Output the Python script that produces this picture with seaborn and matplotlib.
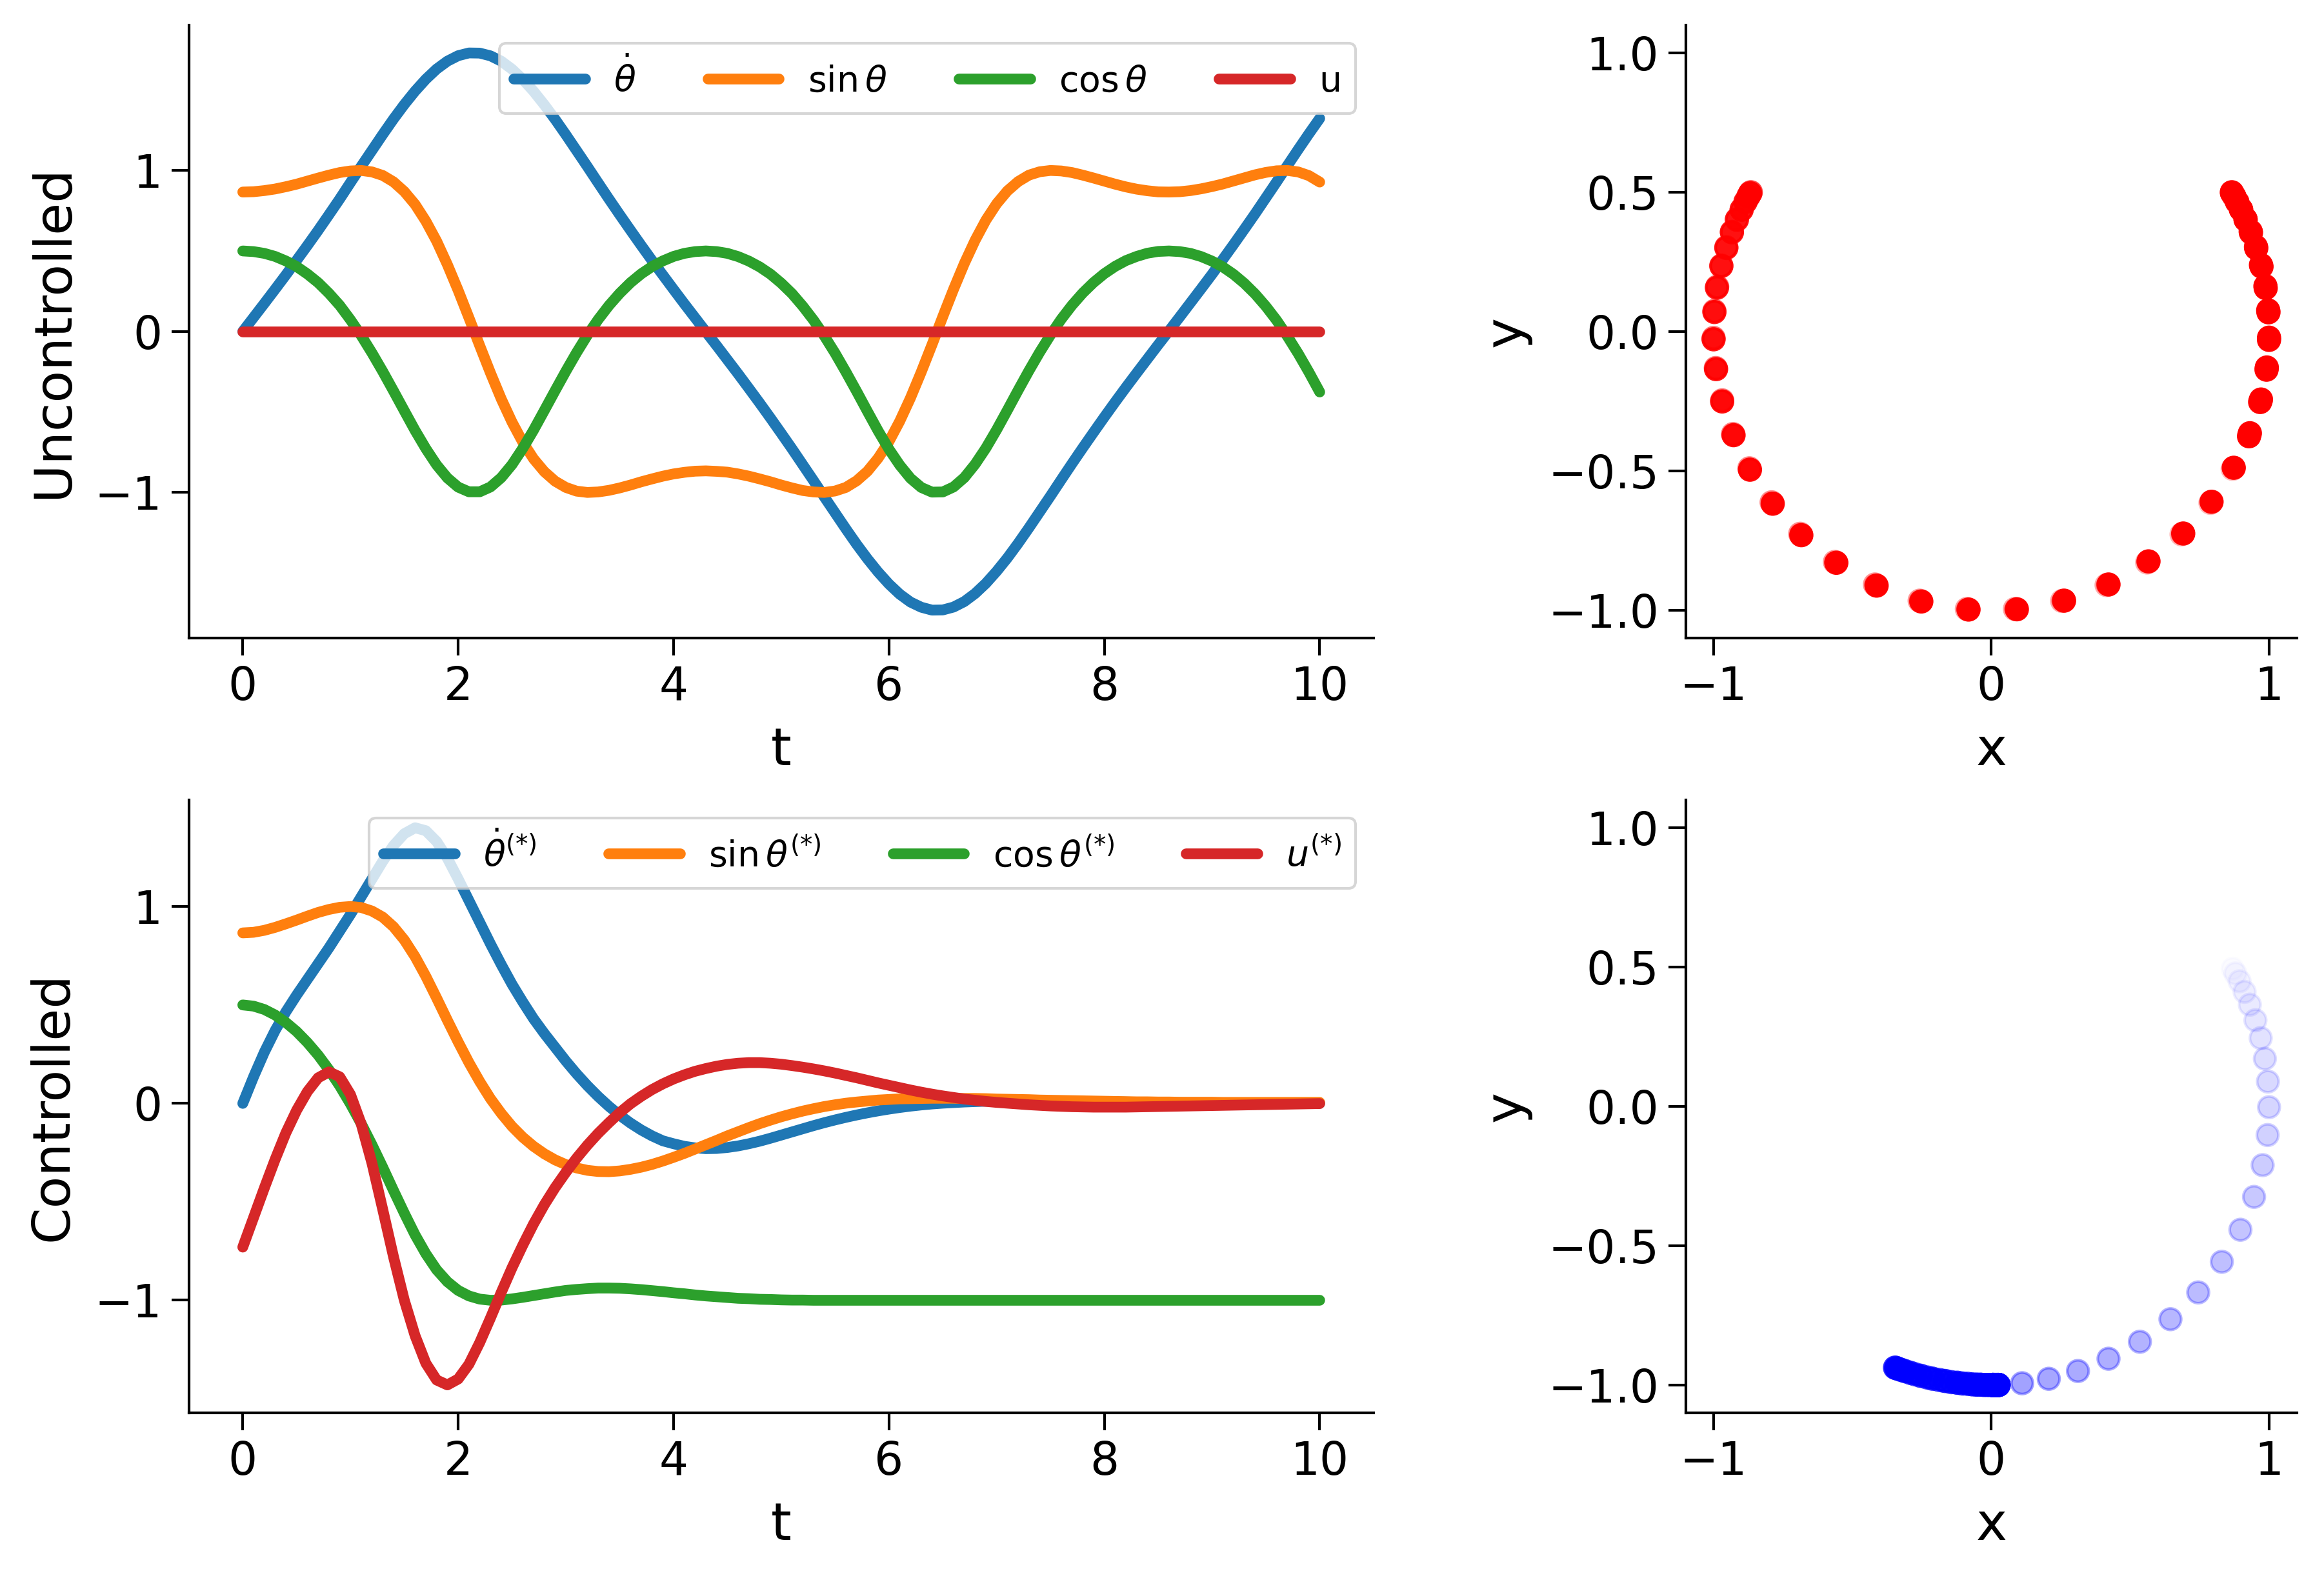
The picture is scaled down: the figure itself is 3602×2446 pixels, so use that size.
import numpy as np
import matplotlib
matplotlib.use("Agg")
import matplotlib.pyplot as plt
from matplotlib.colors import LinearSegmentedColormap
import seaborn as sns

# time grid, 0.1 s steps
t = np.linspace(0, 10, 101)

# --- uncontrolled pendulum ---
thetadot_free = [
    0.000, 0.087, 0.174, 0.262, 0.351, 0.442, 0.534, 0.628, 0.725, 0.823,
    0.925, 1.026, 1.125, 1.224, 1.320, 1.410, 1.493, 1.567, 1.630, 1.679,
    1.713, 1.730, 1.729, 1.712, 1.679, 1.629, 1.566, 1.492, 1.408, 1.318,
    1.222, 1.123, 1.024, 0.923, 0.823, 0.725, 0.629, 0.534, 0.441, 0.351,
    0.261, 0.172, 0.085, -0.002, -0.088, -0.176, -0.264, -0.354, -0.445, -0.538,
    -0.633, -0.729, -0.828, -0.927, -1.028, -1.127, -1.226, -1.322, -1.412, -1.495,
    -1.569, -1.632, -1.681, -1.713, -1.731, -1.730, -1.712, -1.678, -1.628, -1.565,
    -1.490, -1.407, -1.316, -1.220, -1.121, -1.022, -0.921, -0.821, -0.723, -0.627,
    -0.532, -0.439, -0.348, -0.259, -0.171, -0.083, 0.003, 0.090, 0.178, 0.266,
    0.355, 0.447, 0.540, 0.635, 0.731, 0.830, 0.929, 1.030, 1.130, 1.228,
    1.323,
]
sin_free = [
    0.866, 0.868, 0.875, 0.885, 0.899, 0.915, 0.934, 0.953, 0.971, 0.987,
    0.997, 1.000, 0.991, 0.969, 0.929, 0.869, 0.789, 0.685, 0.561, 0.415,
    0.255, 0.085, -0.088, -0.258, -0.419, -0.563, -0.688, -0.791, -0.871, -0.930,
    -0.969, -0.992, -1.000, -0.997, -0.987, -0.972, -0.954, -0.934, -0.916, -0.899,
    -0.885, -0.875, -0.868, -0.866, -0.869, -0.874, -0.885, -0.899, -0.916, -0.934,
    -0.954, -0.972, -0.988, -0.997, -1.000, -0.991, -0.969, -0.928, -0.869, -0.787,
    -0.684, -0.558, -0.413, -0.252, -0.082, 0.092, 0.262, 0.422, 0.566, 0.691,
    0.793, 0.873, 0.931, 0.971, 0.992, 1.000, 0.997, 0.987, 0.971, 0.953,
    0.934, 0.915, 0.898, 0.884, 0.874, 0.867, 0.866, 0.868, 0.875, 0.886,
    0.900, 0.916, 0.935, 0.954, 0.973, 0.988, 0.998, 1.000, 0.991, 0.968,
    0.928,
]
cos_free = [
    0.500, 0.496, 0.485, 0.466, 0.438, 0.403, 0.357, 0.303, 0.237, 0.162,
    0.072, -0.026, -0.134, -0.249, -0.370, -0.493, -0.615, -0.728, -0.829, -0.910,
    -0.967, -0.996, -0.996, -0.966, -0.908, -0.827, -0.726, -0.613, -0.491, -0.368,
    -0.247, -0.131, -0.023, 0.074, 0.161, 0.237, 0.303, 0.358, 0.403, 0.438,
    0.466, 0.485, 0.496, 0.500, 0.496, 0.485, 0.465, 0.437, 0.401, 0.356,
    0.300, 0.235, 0.157, 0.070, -0.028, -0.135, -0.251, -0.372, -0.496, -0.618,
    -0.731, -0.830, -0.912, -0.969, -0.998, -0.997, -0.966, -0.908, -0.825, -0.725,
    -0.611, -0.489, -0.365, -0.244, -0.129, -0.022, 0.076, 0.163, 0.239, 0.304,
    0.359, 0.404, 0.440, 0.466, 0.486, 0.497, 0.500, 0.496, 0.485, 0.465,
    0.437, 0.401, 0.355, 0.299, 0.233, 0.156, 0.069, -0.030, -0.137, -0.253,
    -0.376,
]
# no control input in the free run
u_free = [0.0] * 101

# --- controlled pendulum ---
thetadot_ctrl = [
    0.000, 0.135, 0.260, 0.370, 0.465, 0.550, 0.630, 0.710, 0.790, 0.875,
    0.960, 1.050, 1.140, 1.230, 1.310, 1.370, 1.400, 1.385, 1.330, 1.245,
    1.140, 1.030, 0.920, 0.810, 0.705, 0.605, 0.515, 0.430, 0.355, 0.285,
    0.215, 0.150, 0.090, 0.035, -0.015, -0.060, -0.100, -0.135, -0.165, -0.190,
    -0.205, -0.218, -0.226, -0.230, -0.229, -0.224, -0.216, -0.205, -0.192, -0.177,
    -0.161, -0.145, -0.129, -0.113, -0.098, -0.084, -0.071, -0.059, -0.048, -0.038,
    -0.029, -0.021, -0.014, -0.008, -0.003, 0.001, 0.004, 0.007, 0.009, 0.011,
    0.012, 0.013, 0.013, 0.013, 0.013, 0.012, 0.012, 0.011, 0.010, 0.009,
    0.009, 0.008, 0.007, 0.006, 0.006, 0.005, 0.004, 0.004, 0.003, 0.003,
    0.002, 0.002, 0.002, 0.001, 0.001, 0.001, 0.001, 0.000, 0.000, 0.000,
    0.000,
]
sin_ctrl = [
    0.866, 0.869, 0.879, 0.894, 0.912, 0.931, 0.951, 0.970, 0.985, 0.996,
    1.000, 0.995, 0.977, 0.946, 0.897, 0.830, 0.745, 0.645, 0.535, 0.422,
    0.312, 0.207, 0.111, 0.024, -0.051, -0.117, -0.172, -0.218, -0.256, -0.287,
    -0.311, -0.328, -0.340, -0.346, -0.347, -0.343, -0.335, -0.324, -0.310, -0.293,
    -0.274, -0.254, -0.232, -0.210, -0.188, -0.165, -0.144, -0.123, -0.103, -0.085,
    -0.068, -0.053, -0.039, -0.027, -0.016, -0.007, 0.001, 0.007, 0.012, 0.017,
    0.020, 0.023, 0.024, 0.025, 0.026, 0.026, 0.026, 0.025, 0.025, 0.024,
    0.022, 0.021, 0.020, 0.019, 0.017, 0.016, 0.015, 0.014, 0.013, 0.012,
    0.011, 0.010, 0.009, 0.008, 0.008, 0.007, 0.007, 0.006, 0.006, 0.006,
    0.006, 0.005, 0.005, 0.005, 0.005, 0.005, 0.005, 0.005, 0.005, 0.005,
    0.005,
]
cos_ctrl = [
    0.500, 0.494, 0.477, 0.449, 0.411, 0.365, 0.309, 0.245, 0.171, 0.089,
    -0.003, -0.103, -0.211, -0.325, -0.443, -0.558, -0.668, -0.764, -0.845, -0.906,
    -0.950, -0.978, -0.994, -1.000, -0.999, -0.993, -0.985, -0.976, -0.967, -0.958,
    -0.950, -0.945, -0.941, -0.938, -0.938, -0.939, -0.942, -0.946, -0.951, -0.956,
    -0.962, -0.967, -0.973, -0.978, -0.982, -0.986, -0.990, -0.992, -0.995, -0.996,
    -0.998, -0.999, -0.999, -1.000, -1.000, -1.000, -1.000, -1.000, -1.000, -1.000,
    -1.000, -1.000, -1.000, -1.000, -1.000, -1.000, -1.000, -1.000, -1.000, -1.000,
    -1.000, -1.000, -1.000, -1.000, -1.000, -1.000, -1.000, -1.000, -1.000, -1.000,
    -1.000, -1.000, -1.000, -1.000, -1.000, -1.000, -1.000, -1.000, -1.000, -1.000,
    -1.000, -1.000, -1.000, -1.000, -1.000, -1.000, -1.000, -1.000, -1.000, -1.000,
    -1.000,
]
u_ctrl = [
    -0.730, -0.580, -0.430, -0.285, -0.150, -0.035, 0.060, 0.130, 0.160, 0.135,
    0.045, -0.105, -0.305, -0.540, -0.780, -1.000, -1.180, -1.320, -1.405, -1.430,
    -1.400, -1.325, -1.215, -1.090, -0.960, -0.835, -0.720, -0.612, -0.515, -0.428,
    -0.350, -0.278, -0.212, -0.152, -0.098, -0.047, -0.002, 0.036, 0.070, 0.099,
    0.124, 0.145, 0.163, 0.177, 0.189, 0.198, 0.204, 0.207, 0.207, 0.204,
    0.199, 0.192, 0.184, 0.175, 0.165, 0.154, 0.142, 0.130, 0.117, 0.104,
    0.092, 0.080, 0.068, 0.057, 0.047, 0.038, 0.030, 0.022, 0.016, 0.010,
    0.005, 0.001, -0.003, -0.007, -0.010, -0.013, -0.015, -0.017, -0.018, -0.019,
    -0.019, -0.019, -0.019, -0.018, -0.017, -0.016, -0.015, -0.014, -0.013, -0.012,
    -0.011, -0.010, -0.009, -0.008, -0.007, -0.006, -0.005, -0.004, -0.003, -0.002,
    -0.001,
]

labels_free = [r"$\dot{\theta}$", r"$\sin\theta$", r"$\cos\theta$", "u"]
labels_ctrl = [r"$\dot{\theta}^{(*)}$", r"$\sin\theta^{(*)}$",
               r"$\cos\theta^{(*)}$", r"$u^{(*)}$"]
line_colors = ["#1f77b4", "#ff7f0e", "#2ca02c", "#d62728"]

sns.set_style("ticks")
plt.rcParams.update({
    "font.family": "DejaVu Sans",
    "xtick.labelsize": 17,
    "ytick.labelsize": 17,
    "axes.labelsize": 19.5,
    "axes.labelpad": 6,
    "axes.linewidth": 1.0,
    "axes.edgecolor": "black",
    "axes.labelcolor": "black",
    "text.color": "black",
    "xtick.color": "black",
    "ytick.color": "black",
    "xtick.major.size": 6.5,
    "ytick.major.size": 6.5,
    "xtick.major.width": 1.0,
    "ytick.major.width": 1.0,
})

fig, axes = plt.subplots(2, 2, figsize=(3602 / 300, 2446 / 300), dpi=300,
                         gridspec_kw=dict(width_ratios=[1836, 947]))
fig.subplots_adjust(left=0.0813, right=0.9883, top=0.9841, bottom=0.1047,
                    wspace=0.3478, hspace=0.2642)

rows = [
    ([thetadot_free, sin_free, cos_free, u_free], labels_free, "Uncontrolled",
     sin_free, cos_free, (1, 0, 0)),
    ([thetadot_ctrl, sin_ctrl, cos_ctrl, u_ctrl], labels_ctrl, "Controlled",
     sin_ctrl, cos_ctrl, (0, 0, 1)),
]

for i, (series, labels, name, xs, ys, rgb) in enumerate(rows):
    ax = axes[i, 0]
    for y, lab, col in zip(series, labels, line_colors):
        sns.lineplot(x=t, y=y, ax=ax, color=col, lw=4, label=lab)
    ax.set_xticks([0, 2, 4, 6, 8, 10])
    ax.set_yticks([-1, 0, 1])
    ax.set_xlabel("t")
    ax.set_ylabel(name)
    ax.legend(loc="upper right", ncol=4, fontsize=13.3)

    # pendulum tip positions, fading in over time
    fade = LinearSegmentedColormap.from_list("fade", [rgb + (0.0,), rgb + (1.0,)])
    ax2 = axes[i, 1]
    sns.scatterplot(x=xs, y=ys, hue=t, palette=fade, hue_norm=(0, 6), s=64,
                    edgecolor="face", linewidth=1, legend=False, ax=ax2)
    ax2.set_xlim(-1.1, 1.1)
    ax2.set_ylim(-1.1, 1.1)
    ax2.set_xticks([-1, 0, 1])
    ax2.set_yticks([-1, -0.5, 0, 0.5, 1])
    ax2.set_xlabel("x")
    ax2.set_ylabel("y")

sns.despine(fig)
fig.savefig("out.png", dpi=300)
